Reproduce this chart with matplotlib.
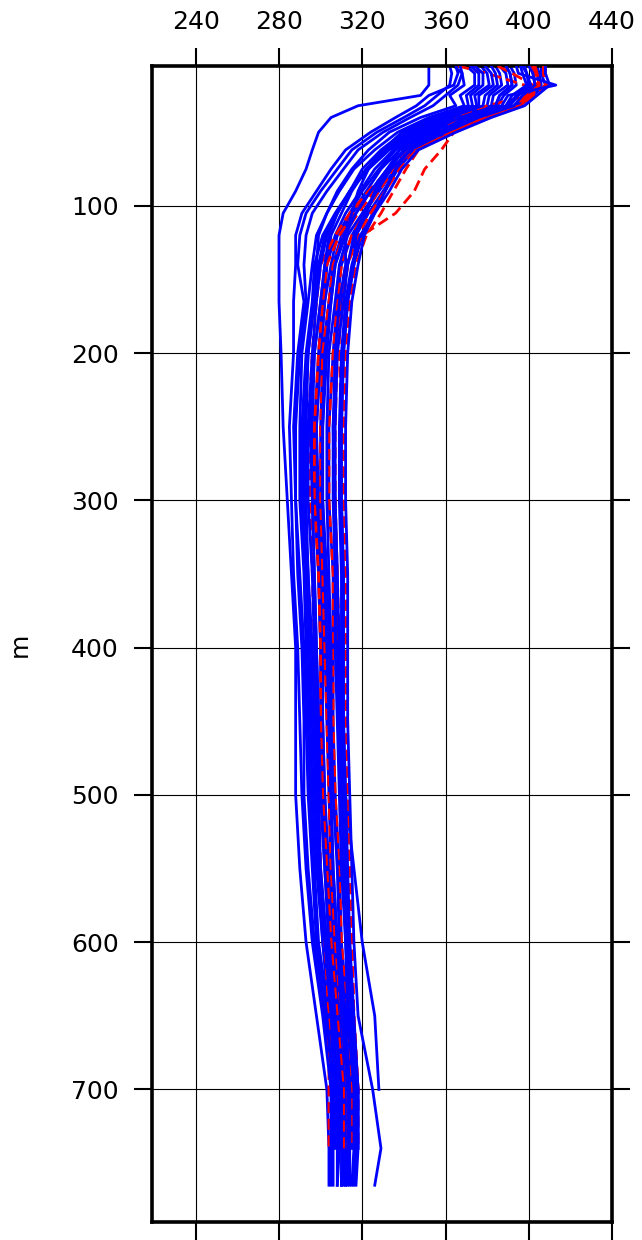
import numpy as np
import matplotlib
matplotlib.use("Agg")
import matplotlib.pyplot as plt

nan = np.nan

# depth levels (m) shared by all profiles
depth = [5, 10, 18, 25, 32, 40, 50, 62, 75, 90, 105, 120, 140, 165, 200,
         250, 300, 350, 400, 450, 500, 550, 600, 650, 700, 740, 765]

# blue (solid) profiles
b01 = [352, 352, 352, 348, 318, 305, 299, 296, 293, 288, 282, 280, 280, 280, 281, 282, 284, 286, 288, 288, 288, 290, 293, 298, 303, 304, 304]
b02 = [365, 366, 364, 352, 346, 336, 324, 312, 305, 298, 291, 288, 288, 287, 287, 285, 286, 287, 289, 290, 291, 293, 296, 301, 305, 305, 305]
b03 = [370, 374, 374, 367, 369, 352, 337, 326, 316, 309, 303, 298, 296, 294, 291, 290, 290, 292, 293, 294, 295, 297, 299, 304, 307, 307, nan]
b04 = [379, 382, 383, 376, 376, 360, 344, 331, 322, 314, 308, 303, 300, 298, 296, 294, 294, 296, 297, 298, 299, 300, 303, 306, 310, 310, 310]
b05 = [389, 391, 392, 386, 384, 367, 351, 336, 328, 320, 314, 308, 305, 302, 300, 298, 299, 300, 301, 301, 302, 304, 306, 309, 312, 312, 311]
b06 = [396, 397, 399, 392, 389, 373, 356, 340, 332, 324, 317, 312, 307, 305, 303, 301, 301, 303, 304, 304, 305, 306, 308, 311, 314, 314, 313]
b07 = [403, 404, 405, 399, 394, 378, 362, 344, 336, 328, 321, 315, 310, 308, 306, 304, 304, 306, 306, 306, 307, 309, 310, 313, 315, 315, nan]
b08 = [394, 395, 413, 390, 387, 371, 355, 340, 333, 327, 321, 316, 313, 311, 308, 307, 307, 308, 309, 309, 310, 311, 313, 314, 317, 317, 316]
b09 = [377, 380, 381, 374, 375, 358, 342, 330, 322, 315, 310, 305, 303, 301, 299, 297, 297, 299, 300, 300, 301, 303, 305, 308, 311, 311, 310]
b10 = [372, 376, 376, 370, 371, 354, 339, 330, 323, 318, 315, 312, 312, 309, 307, 306, 306, 307, 307, 308, 309, 310, 312, 313, 316, 316, 315]
b11 = [401, 402, 403, 397, 393, 376, 360, 344, 337, 331, 325, 320, 316, 313, 311, 310, 310, 311, 311, 311, 312, 316, 320, 326, 328, nan, nan]
b12 = [398, 399, 401, 395, 391, 375, 358, 343, 336, 331, 326, 321, 318, 315, 313, 312, 312, 313, 313, 313, 314, 315, 316, 318, 325, 329, 326]
b13 = [406, 406, 408, 402, 396, 380, 363, 344, 334, 324, 315, 308, 302, 300, 297, 296, 296, 297, 298, 299, 300, 302, 304, 307, 310, 310, nan]
b14 = [382, 384, 385, 379, 378, 362, 346, 332, 322, 314, 308, 302, 299, 297, 294, 293, 293, 294, 296, 297, 298, 299, 302, 305, 309, 309, 308]
b15 = [362, 363, 362, 356, 350, 340, 327, 315, 308, 300, 293, 290, 289, 292, 289, 287, 288, 289, 291, 292, 292, 294, 297, 302, 306, 306, nan]
b16 = [408, 408, 410, 404, 398, 382, 365, 347, 339, 333, 326, 319, 315, 312, 310, 309, 309, 310, 310, 310, 311, 312, 314, 315, 318, 318, 317]
b17 = [391, 393, 394, 388, 385, 369, 353, 338, 329, 322, 315, 310, 306, 304, 301, 300, 300, 301, 302, 303, 304, 305, 307, 310, 313, 313, 312]
b18 = [374, 378, 378, 372, 373, 356, 340, 329, 320, 314, 308, 304, 302, 300, 297, 295, 296, 297, 298, 299, 300, 302, 304, 307, 310, 310, nan]
b19 = [386, 389, 390, 383, 382, 365, 349, 335, 326, 319, 312, 307, 303, 302, 300, 298, 298, 299, 300, 301, 302, 303, 305, 308, 311, 311, 310]
b20 = [400, 402, 403, 397, 393, 376, 360, 343, 334, 327, 320, 313, 309, 307, 304, 303, 303, 304, 305, 305, 306, 308, 309, 312, 314, 314, 314]
b21 = [384, 386, 387, 381, 380, 363, 347, 333, 323, 314, 307, 301, 297, 296, 293, 291, 291, 293, 294, 295, 296, 298, 301, 304, 308, 308, nan]
b22 = [367, 368, 366, 360, 354, 343, 330, 318, 311, 303, 296, 293, 292, 293, 290, 288, 288, 290, 292, 293, 294, 296, 298, 303, 306, 306, 306]
b23 = [404, 405, 406, 400, 395, 379, 362, 345, 337, 330, 323, 317, 313, 310, 308, 306, 307, 308, 308, 309, 310, 311, 312, 314, 316, 316, nan]
b24 = [397, 399, 400, 394, 390, 374, 357, 341, 332, 324, 317, 311, 307, 305, 302, 301, 301, 302, 303, 304, 305, 306, 308, 310, 313, 313, 312]
b25 = [364, 368, 369, 362, 365, 348, 333, 323, 315, 308, 303, 299, 298, 297, 294, 292, 292, 294, 295, 296, 297, 299, 301, 305, 308, 308, 308]
b26 = [389, 391, 392, 386, 384, 367, 351, 338, 332, 326, 322, 317, 316, 313, 311, 310, 310, 311, 311, 311, 312, 313, 314, 316, 318, 318, nan]

# red (dashed) profiles
r01 = [400, 404, 405, 402, 396, 376, 364, 358, 350, 345, 336, 320, 312, 309, 309, 310, 311, 312, 312, 313, 313, 314, 315, 316, 318, 318, nan]
r02 = [403, 404, 405, 399, 394, 378, 362, 343, 334, 326, 318, 311, 306, 304, 301, 300, 300, 301, 302, 303, 304, 305, 307, 310, 313, 313, nan]
r03 = [366, 380, 398, 401, 396, 380, 363, 343, 333, 323, 314, 307, 300, 298, 296, 294, 295, 296, 297, 298, 299, 300, 302, 304, 304, 304, nan]
r04 = [408, 408, 409, 400, 380, 366, 357, 347, 341, 335, 329, 322, 317, 314, 312, 311, 311, 312, 312, 312, 313, 314, 315, 316, 318, 317, nan]
r05 = [402, 403, 404, 398, 394, 378, 361, 344, 335, 328, 321, 315, 310, 308, 306, 304, 304, 306, 306, 306, 307, 309, 310, 313, 315, 315, nan]
r06 = [385, 392, 402, 400, 395, 379, 363, 343, 334, 325, 316, 309, 303, 301, 299, 297, 297, 299, 300, 300, 301, 303, 305, 308, 311, 311, nan]
r07 = [407, 407, 408, 403, 397, 381, 364, 346, 338, 331, 324, 318, 313, 311, 308, 307, 307, 308, 309, 309, 310, 311, 313, 314, 317, 317, nan]

blue_under = [b01, b03, b05, b07, b09, b11, b13, b15, b17, b19, b21, b23, b25]
blue_over = [b02, b04, b06, b08, b10, b12, b14, b16, b18, b20, b22, b24, b26]
red_profiles = [r01, r02, r03, r04, r05, r06, r07]

xticks = [240, 280, 320, 360, 400, 440]
yticks = [100, 200, 300, 400, 500, 600, 700]

plt.rcParams['font.family'] = ['DejaVu Sans']

fig = plt.figure(figsize=(6.42, 12.4), dpi=100)
ax = fig.add_axes([0.2368, 0.0145, 0.7165, 0.9323])

# red drawn between the two blue groups so it shows through here and there
for p in blue_under:
    ax.plot(p, depth, color='blue', lw=2.0, zorder=2)
for p in red_profiles:
    ax.plot(p, depth, color='red', lw=2.0, ls=(0, (4, 2)), zorder=3)
for p in blue_over:
    ax.plot(p, depth, color='blue', lw=2.0, zorder=4)

ax.set_xlim(219, 439)
ax.set_ylim(790, 5)
ax.set_xticks(xticks)
ax.set_yticks(yticks)
ax.grid(True, color='black', lw=0.8)
ax.set_axisbelow(True)

ax.tick_params(axis='both', direction='out', length=13, width=1.5,
               labelsize=18, top=True, right=True, bottom=True, left=True,
               labeltop=True, labelbottom=False, labelleft=True, labelright=False)
ax.tick_params(axis='x', pad=10)
ax.tick_params(axis='y', pad=11)
for s in ax.spines.values():
    s.set_linewidth(2.6)

fig.text(20 / 642, 1 - 645 / 1240, 'm', rotation=90, fontsize=18,
         ha='center', va='center')

fig.savefig('out.png', dpi=100)
